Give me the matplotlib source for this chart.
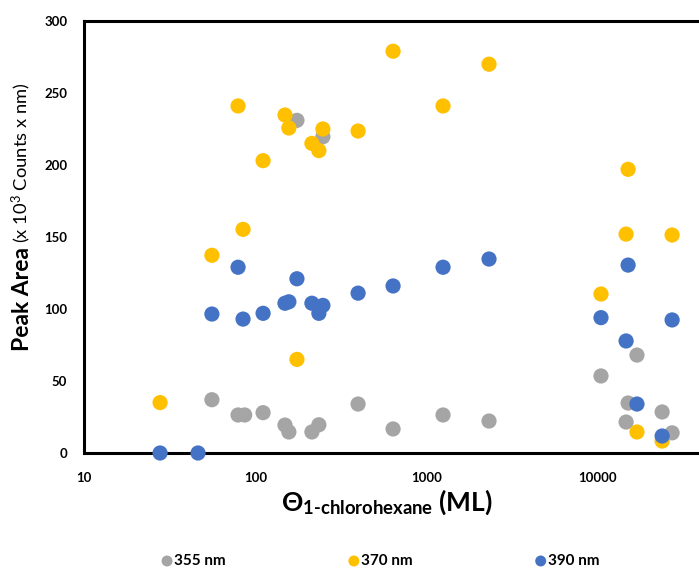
import numpy as np
import matplotlib
matplotlib.use("Agg")
import matplotlib.pyplot as plt

plt.rcParams['font.family'] = ['Lato', 'DejaVu Sans']
plt.rcParams['mathtext.fontset'] = 'custom'
plt.rcParams['mathtext.rm'] = 'Lato'
plt.rcParams['mathtext.bf'] = 'Lato:bold'
plt.rcParams['mathtext.it'] = 'Lato:italic'

# coverage (ML) and peak areas (x 10^3 counts x nm)
x_355 = [55.8, 79.3, 86.7, 111, 149, 157, 175, 214, 235, 248, 398, 637, 1247, 2313,
         10420, 14600, 15000, 16900, 23700, 27100]
y_355 = [37, 26.4, 26.4, 28, 19.4, 14.6, 231, 14.6, 19.6, 219.6, 34, 16.7, 26.4, 22.2,
         53.5, 21.5, 34.7, 68, 28.5, 14]

x_370 = [27.8, 55.8, 79.3, 84.8, 111, 149, 157, 175, 214, 235, 248, 398, 637, 1247, 2313,
         10420, 14600, 15000, 16900, 23700, 27100]
y_370 = [35, 137.3, 241, 155.3, 203, 234.7, 225.7, 65, 215, 210, 225, 223.6, 279, 241, 270,
         110.4, 152, 197, 14.6, 8.3, 151.4]

x_390 = [27.8, 46.3, 55.8, 79.3, 84.8, 111, 149, 157, 175, 214, 235, 248, 398, 637, 1247, 2313,
         10420, 14600, 15000, 16900, 23700, 27100]
y_390 = [0, 0, 96.5, 129, 93, 97, 104, 105, 121, 104, 97, 102.5, 111, 116, 129, 134.7,
         94, 77.8, 130.5, 34, 11.8, 92.4]

labels = ["355 nm", "370 nm", "390 nm"]
colors = ["#A5A5A5", "#FFC000", "#4472C4"]

W, H = 699, 569
fig = plt.figure(figsize=(W / 100, H / 100), dpi=100)
ax = fig.add_axes([84 / W, (H - 453) / H, (W - 84) / W, (453 - 21) / H])

for xs, ys, c, lab in zip([x_355, x_370, x_390], [y_355, y_370, y_390], colors, labels):
    ax.scatter(xs, ys, s=120, color=c, label=lab, edgecolors='none', zorder=3, clip_on=False)

ax.set_xscale('log')
ax.set_xlim(10, 38900)
ax.set_ylim(0, 300)
ax.set_yticks([0, 50, 100, 150, 200, 250, 300])
ax.set_xticks([10, 100, 1000, 10000])
ax.set_xticklabels(['10', '100', '1000', '10000'])
ax.minorticks_off()
ax.tick_params(length=0, labelsize=9.5, pad=14)
ax.tick_params(axis='y', pad=12)
for lbl in ax.get_xticklabels() + ax.get_yticklabels():
    lbl.set_fontweight('bold')

for side in ['left', 'top', 'bottom']:
    ax.spines[side].set_linewidth(2.2)
    ax.spines[side].set_color('black')
ax.spines['right'].set_visible(False)

# axis titles
fig.text(387 / W, (H - 502) / H, r'Θ$_{\mathbf{1‐chlorohexane}}$ (ML)',
         ha='center', va='center', fontsize=19, fontweight='bold')
fig.text(33 / W, (H - 351) / H, 'Peak Area', rotation=90, ha='right', va='bottom',
         fontsize=16.5, fontweight='bold')
fig.text(33 / W, (H - 243) / H, r'(x 10$^3$ Counts x nm)', rotation=90, ha='right',
         va='bottom', fontsize=13.2)

leg = fig.legend(loc='center', bbox_to_anchor=(380 / W, (H - 561) / H), ncol=3,
                 frameon=False, columnspacing=8.0, handletextpad=0.05,
                 handlelength=0.8, markerscale=0.72,
                 prop={'weight': 'bold', 'size': 11})

fig.savefig('out.png', dpi=100)
